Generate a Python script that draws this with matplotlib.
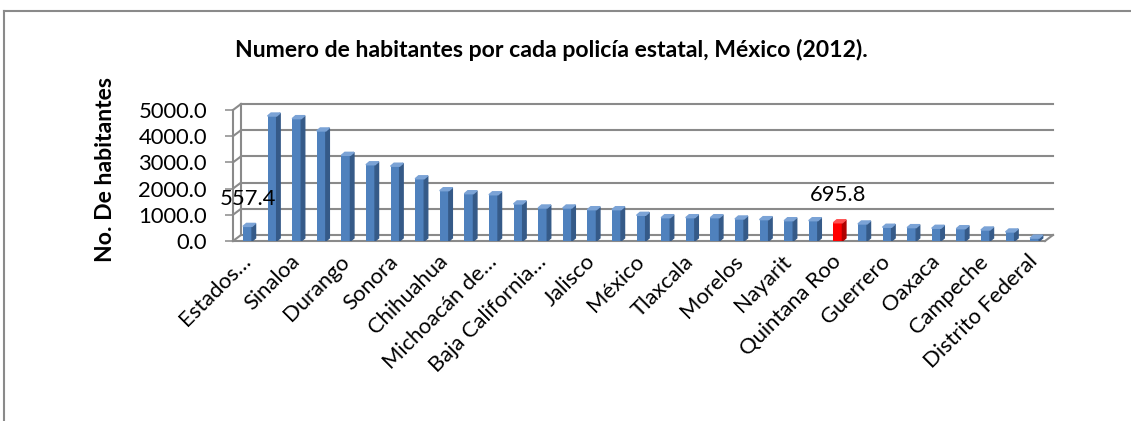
import matplotlib
matplotlib.use("Agg")
import matplotlib.pyplot as plt
from matplotlib.patches import Polygon
from matplotlib.lines import Line2D
from matplotlib.ticker import FormatStrFormatter

# habitantes por cada policia estatal, 2012
estados = [
    "Estados Unidos Mexicanos", "Guanajuato", "Sinaloa", "Coahuila de Zaragoza",
    "Durango", "Tamaulipas", "Sonora", "Puebla", "Chihuahua", "Zacatecas",
    "Michoacán de Ocampo", "Nuevo León", "Baja California Sur", "Aguascalientes",
    "Jalisco", "Hidalgo", "México", "San Luis Potosí", "Tlaxcala", "Querétaro",
    "Morelos", "Chiapas", "Nayarit", "Veracruz de Ignacio de la Llave",
    "Quintana Roo", "Tabasco", "Guerrero", "Colima", "Oaxaca", "Yucatán",
    "Campeche", "Baja California", "Distrito Federal",
]
habitantes = [
    557.4, 4770, 4670, 4200, 3270, 2910, 2855, 2375, 1920, 1805,
    1765, 1415, 1260, 1260, 1195, 1195, 980, 890, 890, 890,
    840, 815, 775, 775, 695.8, 650, 525, 510, 485, 470,
    420, 345, 110,
]
# nombres recortados como en la grafica original
cortos = {
    "Estados Unidos Mexicanos": "Estados…",
    "Michoacán de Ocampo": "Michoacán de…",
    "Baja California Sur": "Baja California…",
}
con_etiqueta = [0, 24]
resaltado = 24

W, H = 1131, 421
plt.rcParams['font.family'] = ['Lato', 'DejaVu Sans']
fig = plt.figure(figsize=(W / 100, H / 100), dpi=100)

left, right, bottom, top = 233, 1045, 241, 110
ax = fig.add_axes([left / W, 1 - bottom / H, (right - left) / W, (bottom - top) / H])
x0, x1 = -0.59, 32.42
ax.set_xlim(x0, x1)
ax.set_ylim(0, 5000)
for s in ax.spines.values():
    s.set_visible(False)

px_x = (right - left) / (x1 - x0)
px_y = (bottom - top) / 5000.0
gris = '#8a8a8a'

# paredes (efecto 3d)
dxw, dyw = 8 / px_x, 6 / px_y
yt = list(range(0, 5001, 1000))
for y in yt:
    ax.plot([x0 + dxw, x1 + dxw], [y + dyw, y + dyw], color=gris, lw=1.5, clip_on=False, zorder=1)
    ax.plot([x0, x0 + dxw], [y, y + dyw], color=gris, lw=1.5, clip_on=False, zorder=1)
ax.plot([x0, x0], [0, 5000], color=gris, lw=1.5, clip_on=False, zorder=1)
ax.plot([x0 + dxw, x0 + dxw], [dyw, 5000 + dyw], color=gris, lw=1.5, clip_on=False, zorder=1)
ax.plot([x0, x1], [0, 0], color=gris, lw=1.5, clip_on=False, zorder=1)
ax.plot([x1, x1 + dxw], [0, dyw], color=gris, lw=1.5, clip_on=False, zorder=1)

# barras
w = 0.37
dxb, dyb = 3.5 / px_x, 3 / px_y
xs = list(range(len(habitantes)))
colores = ['#FF0000' if i == resaltado else '#4F81BD' for i in xs]
lados = ['#B00000' if i == resaltado else '#355A88' for i in xs]
techos = ['#FF5050' if i == resaltado else '#7BA3D6' for i in xs]
ax.bar(xs, habitantes, width=w, color=colores, zorder=3)
for i, v in zip(xs, habitantes):
    xr = i + w / 2
    ax.add_patch(Polygon([(xr, 0), (xr + dxb, dyb), (xr + dxb, v + dyb), (xr, v)],
                         closed=True, color=lados[i], zorder=3))
    ax.add_patch(Polygon([(i - w / 2, v), (xr, v), (xr + dxb, v + dyb), (i - w / 2 + dxb, v + dyb)],
                         closed=True, color=techos[i], zorder=3))

for i in con_etiqueta:
    v = habitantes[i]
    ax.annotate(f"{v:.1f}", (i, v), xytext=(0, 20), textcoords='offset points',
                ha='center', va='center', fontsize=15.8, zorder=5)

ax.set_yticks(yt)
ax.yaxis.set_major_formatter(FormatStrFormatter('%.1f'))
ax.tick_params(axis='y', length=5.8, width=1.1, color=gris, pad=13, labelsize=15.8)

pares = xs[::2]
ax.set_xticks(pares, [cortos.get(estados[i], estados[i]) for i in pares])
ax.tick_params(axis='x', length=0, pad=12.5, labelsize=15.8)
for t in ax.get_xticklabels():
    t.set_rotation(45)
    t.set_ha('right')
    t.set_va('center')
    t.set_rotation_mode('anchor')

fig.text(551 / W, 1 - 50 / H, "Numero de habitantes por cada policía estatal, México (2012).",
         ha='center', va='center', fontsize=16.6, fontweight='bold')
fig.text(106 / W, 1 - 170 / H, "No. De habitantes", rotation=90,
         ha='center', va='center', fontsize=16.6, fontweight='bold')

fig.add_artist(Line2D([4 / W, 1], [1 - 11 / H, 1 - 11 / H], color=gris, lw=1.5))
fig.add_artist(Line2D([4 / W, 4 / W], [0, 1 - 11 / H], color=gris, lw=1.5))

fig.savefig("out.png", dpi=100)
